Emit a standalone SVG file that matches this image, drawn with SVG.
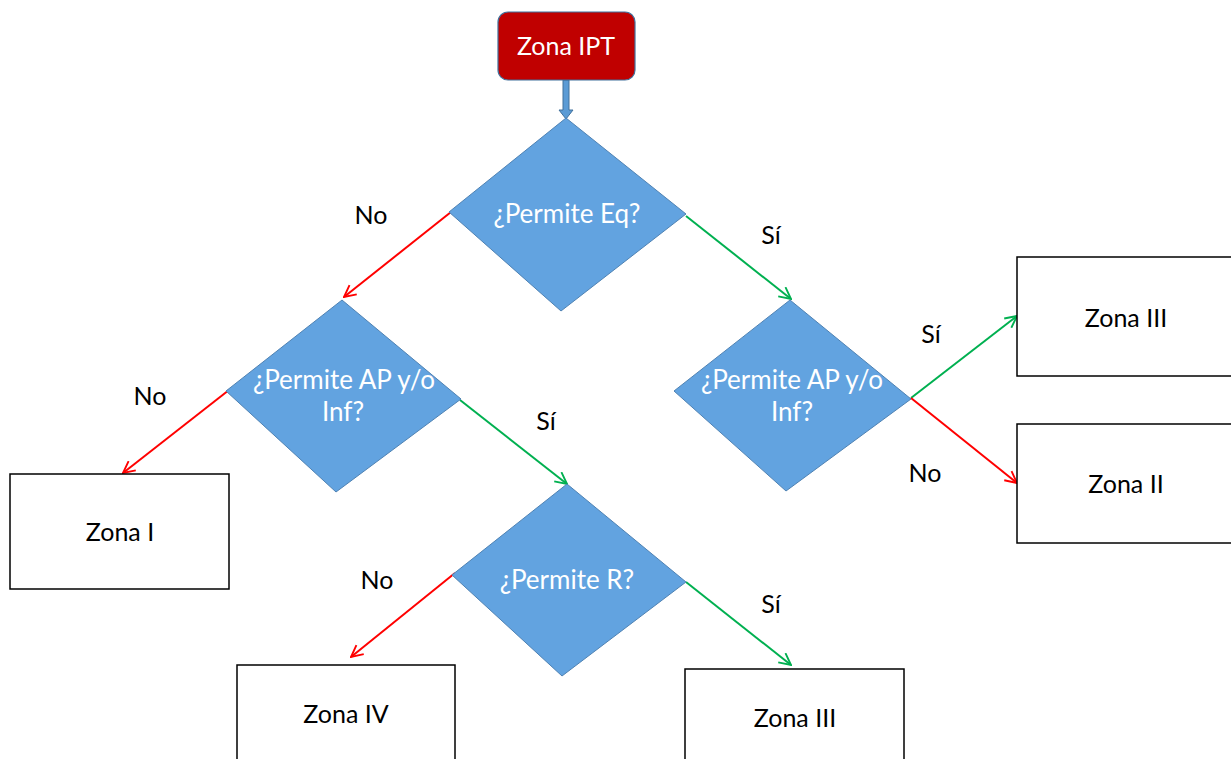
<svg xmlns="http://www.w3.org/2000/svg" width="1231" height="759" viewBox="0 0 1231 759">
  <defs>
    <style>
      text { font-family: Lato, "Open Sans", "Liberation Sans", sans-serif; font-size: 25px; text-anchor: middle; }
      .w { fill: #ffffff; }
      .q { font-size: 26px; }
      .k { fill: #000000; }
      .dia { fill: #62A3E0; stroke: #4F82B3; stroke-width: 1; }
      .box { fill: #ffffff; stroke: #000000; stroke-width: 1.5; }
      .no { stroke: #FF0000; stroke-width: 2; fill: none; marker-end: url(#arrR); }
      .si { stroke: #00B050; stroke-width: 2; fill: none; marker-end: url(#arrG); }
    </style>
    <marker id="arrR" viewBox="0 0 12 12" refX="11" refY="6" markerWidth="7" markerHeight="7" orient="auto" markerUnits="strokeWidth">
      <path d="M1,1 L11,6 L1,11" fill="none" stroke="#FF0000" stroke-width="1.6"/>
    </marker>
    <marker id="arrG" viewBox="0 0 12 12" refX="11" refY="6" markerWidth="7" markerHeight="7" orient="auto" markerUnits="strokeWidth">
      <path d="M1,1 L11,6 L1,11" fill="none" stroke="#00B050" stroke-width="1.6"/>
    </marker>
  </defs>

  <rect width="1231" height="759" fill="#ffffff"/>

  <!-- connectors -->
  <g id="connectors">
    <!-- block arrow from start node -->
    <path d="M563,80 L569,80 L569,110 L573,110 L566,119 L559,110 L563,110 Z" fill="#5B9BD5" stroke="#41719C" stroke-width="1"/>
    <line class="no" x1="451" y1="212" x2="344" y2="297"/>
    <line class="si" x1="686" y1="216" x2="791" y2="299"/>
    <line class="no" x1="229" y1="390" x2="123" y2="473"/>
    <line class="si" x1="460" y1="400" x2="567" y2="484"/>
    <line class="si" x1="911" y1="398" x2="1017" y2="316"/>
    <line class="no" x1="911" y1="398" x2="1017" y2="483"/>
    <line class="no" x1="455" y1="573" x2="351" y2="657"/>
    <line class="si" x1="686" y1="582" x2="791" y2="665"/>
    <!-- branch labels -->
    <text class="k" x="371" y="224">No</text>
    <text class="k" x="771" y="244">Sí</text>
    <text class="k" x="150" y="405">No</text>
    <text class="k" x="546" y="430">Sí</text>
    <text class="k" x="931" y="343">Sí</text>
    <text class="k" x="925" y="482">No</text>
    <text class="k" x="377" y="589">No</text>
    <text class="k" x="771" y="613">Sí</text>
  </g>

  <g id="start">
    <rect x="498" y="12" width="137" height="68" rx="10" ry="10" fill="#C00000" stroke="#41719C" stroke-width="1.2"/>
    <text class="w" x="566" y="55">Zona IPT</text>
  </g>

  <g id="q-eq">
    <polygon class="dia" points="566,118 686,214 561,311 449,212"/>
    <text class="w q" x="567" y="223">¿Permite Eq?</text>
  </g>

  <g id="q-ap-left">
    <polygon class="dia" points="342,300 461,399 336,492 226,391"/>
    <text class="w q" x="344" y="389">¿Permite AP y/o</text>
    <text class="w q" x="343" y="421">Inf?</text>
  </g>

  <g id="q-ap-right">
    <polygon class="dia" points="790,300 911,399 786,491 674,391"/>
    <text class="w q" x="792" y="389">¿Permite AP y/o</text>
    <text class="w q" x="792" y="421">Inf?</text>
  </g>

  <g id="q-r">
    <polygon class="dia" points="567,484 686,582 562,676 452,575"/>
    <text class="w q" x="567" y="589">¿Permite R?</text>
  </g>

  <g id="zona-iii-a">
    <rect class="box" x="1017" y="257" width="220" height="119"/>
    <text class="k" x="1126" y="327">Zona III</text>
  </g>

  <g id="zona-ii">
    <rect class="box" x="1017" y="424" width="220" height="119"/>
    <text class="k" x="1126" y="493">Zona II</text>
  </g>

  <g id="zona-i">
    <rect class="box" x="10" y="474" width="219" height="115"/>
    <text class="k" x="120" y="541">Zona I</text>
  </g>

  <g id="zona-iv">
    <rect class="box" x="237" y="665" width="218" height="110"/>
    <text class="k" x="346" y="723">Zona IV</text>
  </g>

  <g id="zona-iii-b">
    <rect class="box" x="685" y="669" width="219" height="110"/>
    <text class="k" x="795" y="727">Zona III</text>
  </g>
</svg>
